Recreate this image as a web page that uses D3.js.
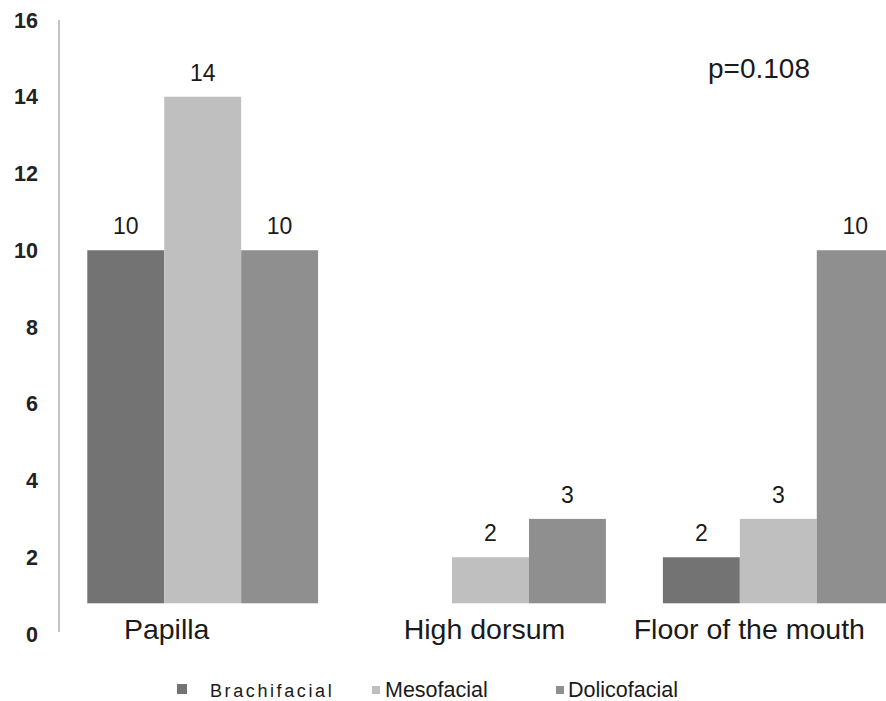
<!DOCTYPE html>
<html>
<head>
<meta charset="utf-8">
<script src="https://cdn.jsdelivr.net/npm/d3@7/dist/d3.min.js"></script>
<style>
  html, body { margin: 0; padding: 0; background: #fff; }
  svg { display: block; font-family: "Liberation Sans", Arial, sans-serif; }
</style>
</head>
<body>
<svg id="chart" width="886" height="701"></svg>
<script>
// Tongue-thrust sites by facial pattern
const categories = ["Papilla", "High dorsum", "Floor of the mouth"];
const seriesNames = ["Brachifacial", "Mesofacial", "Dolicofacial"];
const brachifacial = [10, 0, 2];
const mesofacial = [14, 2, 3];
const dolicofacial = [10, 3, 10];
const yTicks = [0, 2, 4, 6, 8, 10, 12, 14, 16];
const pValueText = "p=0.108";

const seriesValues = [brachifacial, mesofacial, dolicofacial];
const colors = ["#737373", "#bfbfbf", "#8f8f8f"];

const W = 886, H = 701;
const svg = d3.select("#chart");
svg.append("rect").attr("width", W).attr("height", H).attr("fill", "#fff");

const y = d3.scaleLinear().domain([0, 16]).range([634, 20]);
const baseValue = 0.8; // bars rest on the plot floor slightly above zero

const x0 = d3.scaleBand().domain(categories)
  .range([58.5, 922.5]).paddingInner(0.198).paddingOuter(0.1);
const x1 = d3.scaleBand().domain(seriesNames).range([0, x0.bandwidth()]);

// vertical axis line
svg.append("line")
  .attr("x1", 59).attr("x2", 59)
  .attr("y1", y(16)).attr("y2", y(0) - 2)
  .attr("stroke", "#c4c4c4").attr("stroke-width", 2);

// tick labels
svg.append("g").selectAll("text").data(yTicks).join("text")
  .attr("x", 38).attr("y", d => y(d) + 7.5)
  .attr("text-anchor", "end")
  .attr("font-size", 21.5).attr("font-weight", "bold")
  .attr("fill", "#222")
  .text(d => d);

// bars
const rows = categories.map((c, i) => ({
  cat: c,
  vals: seriesNames.map((s, j) => ({ s, j, v: seriesValues[j][i] }))
}));

const groups = svg.append("g").selectAll("g").data(rows).join("g")
  .attr("transform", d => `translate(${x0(d.cat)},0)`);

groups.selectAll("rect").data(d => d.vals.filter(e => e.v > 0)).join("rect")
  .attr("x", d => x1(d.s))
  .attr("y", d => y(d.v))
  .attr("width", x1.bandwidth())
  .attr("height", d => y(baseValue) - y(d.v))
  .attr("fill", d => colors[d.j]);

groups.selectAll("text.val").data(d => d.vals.filter(e => e.v > 0)).join("text")
  .attr("class", "val")
  .attr("x", d => x1(d.s) + x1.bandwidth() / 2)
  .attr("y", d => y(d.v) - 16)
  .attr("text-anchor", "middle")
  .attr("font-size", 23)
  .attr("fill", "#1a1a1a")
  .text(d => d.v);

// category labels, nudged as in the original layout
const labelShift = [-36, -6, -29];
svg.append("g").selectAll("text").data(categories).join("text")
  .attr("x", (d, i) => x0(d) + x0.bandwidth() / 2 + labelShift[i])
  .attr("y", 639)
  .attr("text-anchor", "middle")
  .attr("font-size", 28.5)
  .attr("fill", "#1a1a1a")
  .text(d => d);

// p-value annotation
svg.append("text")
  .attr("x", 708).attr("y", 78)
  .attr("font-size", 28)
  .attr("fill", "#1a1a1a")
  .text(pValueText);

// legend
const legendX = [177, 372, 556];
const legendTextX = [210, 385, 568];
const markerSize = [10, 8, 8];
const legend = svg.append("g").selectAll("g").data(seriesNames).join("g");
legend.append("rect")
  .attr("x", (d, i) => legendX[i])
  .attr("y", (d, i) => 694 - markerSize[i])
  .attr("width", (d, i) => markerSize[i])
  .attr("height", (d, i) => markerSize[i])
  .attr("fill", (d, i) => colors[i]);
legend.append("text")
  .attr("x", (d, i) => legendTextX[i])
  .attr("y", 697)
  .attr("font-size", (d, i) => i === 0 ? 18 : 21.5)
  .attr("letter-spacing", (d, i) => i === 0 ? 2.6 : 0)
  .attr("fill", "#1a1a1a")
  .text(d => d);
</script>
</body>
</html>
